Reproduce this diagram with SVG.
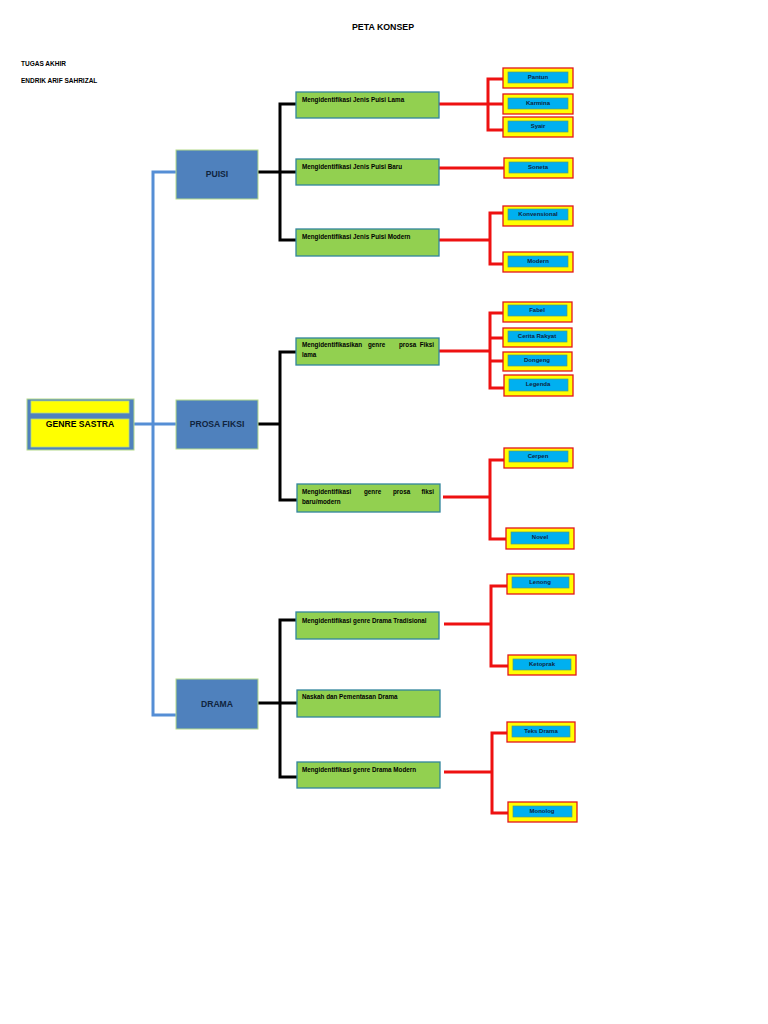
<svg xmlns="http://www.w3.org/2000/svg" width="768" height="1024" viewBox="0 0 768 1024">
<style>
text{font-family:"Liberation Sans",Arial,sans-serif;font-weight:bold}
.hdr{font-size:6.5px;fill:#000}
.title{font-size:8.8px;fill:#000;text-anchor:middle}
.main{fill:#4f81bd;stroke:#b4d98a;stroke-width:1}
.mt{font-size:8.6px;fill:#10243e;text-anchor:middle}
.g{fill:#92d050;stroke:#31859c;stroke-width:1.3}
.gt{font-size:6.3px;fill:#000}
.co{fill:#ffff00;stroke:#e3161b;stroke-width:1.3}
.ci{fill:#00b0f0;stroke:#5a9a72;stroke-width:0.7}
.ct{font-size:6px;fill:#10243e;text-anchor:middle}
.blue{fill:none;stroke:#558ed5;stroke-width:3}
.black{fill:none;stroke:#000;stroke-width:3}
.red{fill:none;stroke:#ee1111;stroke-width:3}
</style>
<rect width="768" height="1024" fill="#fff"/>
<text class="title" x="383" y="30">PETA KONSEP</text>
<text class="hdr" x="21" y="66">TUGAS AKHIR</text>
<text class="hdr" x="21" y="83">ENDRIK ARIF SAHRIZAL</text>

<g id="connectors">
<path class="blue" d="M134,424 H176 M177,172 H153 V715 H177"/>
<path class="black" d="M258,172 H297 M297,104 H280 V240 H297"/>
<path class="black" d="M258,424 H280 M297,352 H280 V500 H297"/>
<path class="black" d="M258,703 H297 M297,620 H280 V777 H297"/>
<path class="red" d="M439,104 H503 M503,79 H488 V130 H503"/>
<path class="red" d="M439,168 H504"/>
<path class="red" d="M439,240 H490 M503,213 H490 V264 H503"/>
<path class="red" d="M439,351 H490 M503,313 H490 V388 H504 M490,338 H503 M490,361 H503"/>
<path class="red" d="M443,497 H490 M504,460 H490 V539 H506"/>
<path class="red" d="M444,624 H491 M507,586 H491 V666 H508"/>
<path class="red" d="M444,772 H492 M507,733 H492 V813 H508"/>
</g>

<g id="genre-sastra">
<rect x="27" y="399" width="107" height="51" fill="#4f81bd" stroke="#b4d98a" stroke-width="1"/>
<rect x="31" y="401" width="98" height="12" fill="#ffff00" stroke="#b4d98a" stroke-width="0.8"/>
<rect x="31" y="419" width="98" height="28" fill="#ffff00" stroke="#b4d98a" stroke-width="0.8"/>
<text x="80" y="427" style="font-size:8.6px;fill:#000;text-anchor:middle">GENRE SASTRA</text>
</g>

<g id="puisi"><rect class="main" x="176" y="150" width="82" height="49"/><text class="mt" x="217" y="177">PUISI</text></g>
<g id="prosa-fiksi"><rect class="main" x="176" y="400" width="82" height="49"/><text class="mt" x="217" y="427">PROSA FIKSI</text></g>
<g id="drama"><rect class="main" x="176" y="679" width="82" height="50"/><text class="mt" x="217" y="707">DRAMA</text></g>

<g id="puisi-lama"><rect class="g" x="296" y="92" width="143" height="26"/><text class="gt" x="302" y="102">Mengidentifikasi Jenis Puisi Lama</text></g>
<g id="puisi-baru"><rect class="g" x="296" y="159" width="143" height="26"/><text class="gt" x="302" y="169">Mengidentifikasi Jenis Puisi Baru</text></g>
<g id="puisi-modern"><rect class="g" x="296" y="229" width="143" height="27"/><text class="gt" x="302" y="239">Mengidentifikasi Jenis Puisi Modern</text></g>
<g id="prosa-lama"><rect class="g" x="296" y="338" width="143" height="27"/>
<text class="gt" y="347"><tspan x="302">Mengidentifikasikan</tspan><tspan x="368">genre</tspan><tspan x="399">prosa</tspan><tspan x="434" text-anchor="end">Fiksi</tspan></text>
<text class="gt" x="302" y="357">lama</text></g>
<g id="prosa-baru"><rect class="g" x="297" y="484" width="143" height="28"/>
<text class="gt" y="494"><tspan x="302">Mengidentifikasi</tspan><tspan x="364">genre</tspan><tspan x="393">prosa</tspan><tspan x="434" text-anchor="end">fiksi</tspan></text>
<text class="gt" x="302" y="504">baru/modern</text></g>
<g id="drama-tradisional"><rect class="g" x="296" y="612" width="143" height="27"/><text class="gt" x="302" y="623">Mengidentifikasi genre Drama Tradisional</text></g>
<g id="naskah"><rect class="g" x="297" y="690" width="143" height="27"/><text class="gt" x="302" y="699">Naskah dan Pementasan Drama</text></g>
<g id="drama-modern"><rect class="g" x="297" y="762" width="143" height="26"/><text class="gt" x="302" y="772">Mengidentifikasi genre Drama Modern</text></g>

<g id="pantun"><rect class="co" x="503" y="68" width="70" height="20"/><rect class="ci" x="508" y="72" width="60" height="11"/><text class="ct" x="538" y="79">Pantun</text></g>
<g id="karmina"><rect class="co" x="503" y="94" width="70" height="20"/><rect class="ci" x="508" y="98" width="60" height="11"/><text class="ct" x="538" y="105">Karmina</text></g>
<g id="syair"><rect class="co" x="503" y="117" width="70" height="20"/><rect class="ci" x="508" y="121" width="60" height="11"/><text class="ct" x="538" y="128">Syair</text></g>
<g id="soneta"><rect class="co" x="504" y="158" width="69" height="20"/><rect class="ci" x="509" y="162" width="59" height="11"/><text class="ct" x="538" y="169">Soneta</text></g>
<g id="konvensional"><rect class="co" x="503" y="206" width="70" height="20"/><rect class="ci" x="508" y="209" width="60" height="11"/><text class="ct" x="538" y="216">Konvensional</text></g>
<g id="modern"><rect class="co" x="503" y="252" width="70" height="20"/><rect class="ci" x="508" y="256" width="60" height="11"/><text class="ct" x="538" y="263">Modern</text></g>
<g id="fabel"><rect class="co" x="503" y="302" width="69" height="20"/><rect class="ci" x="508" y="305" width="59" height="11"/><text class="ct" x="537" y="312">Fabel</text></g>
<g id="cerita-rakyat"><rect class="co" x="503" y="328" width="69" height="19"/><rect class="ci" x="508" y="331" width="59" height="11"/><text class="ct" x="537" y="338">Cerita Rakyat</text></g>
<g id="dongeng"><rect class="co" x="503" y="352" width="69" height="19"/><rect class="ci" x="508" y="355" width="59" height="11"/><text class="ct" x="537" y="362">Dongeng</text></g>
<g id="legenda"><rect class="co" x="504" y="375" width="69" height="21"/><rect class="ci" x="509" y="379" width="59" height="12"/><text class="ct" x="538" y="386">Legenda</text></g>
<g id="cerpen"><rect class="co" x="504" y="448" width="69" height="20"/><rect class="ci" x="509" y="451" width="59" height="11"/><text class="ct" x="538" y="458">Cerpen</text></g>
<g id="novel"><rect class="co" x="506" y="528" width="68" height="21"/><rect class="ci" x="511" y="532" width="58" height="12"/><text class="ct" x="540" y="539">Novel</text></g>
<g id="lenong"><rect class="co" x="507" y="574" width="67" height="20"/><rect class="ci" x="512" y="577" width="57" height="11"/><text class="ct" x="540" y="584">Lenong</text></g>
<g id="ketoprak"><rect class="co" x="508" y="655" width="68" height="20"/><rect class="ci" x="513" y="659" width="58" height="11"/><text class="ct" x="542" y="666">Ketoprak</text></g>
<g id="teks-drama"><rect class="co" x="507" y="722" width="68" height="20"/><rect class="ci" x="512" y="726" width="58" height="11"/><text class="ct" x="541" y="733">Teks Drama</text></g>
<g id="monolog"><rect class="co" x="508" y="802" width="69" height="20"/><rect class="ci" x="513" y="806" width="59" height="11"/><text class="ct" x="542" y="813">Monolog</text></g>
</svg>
